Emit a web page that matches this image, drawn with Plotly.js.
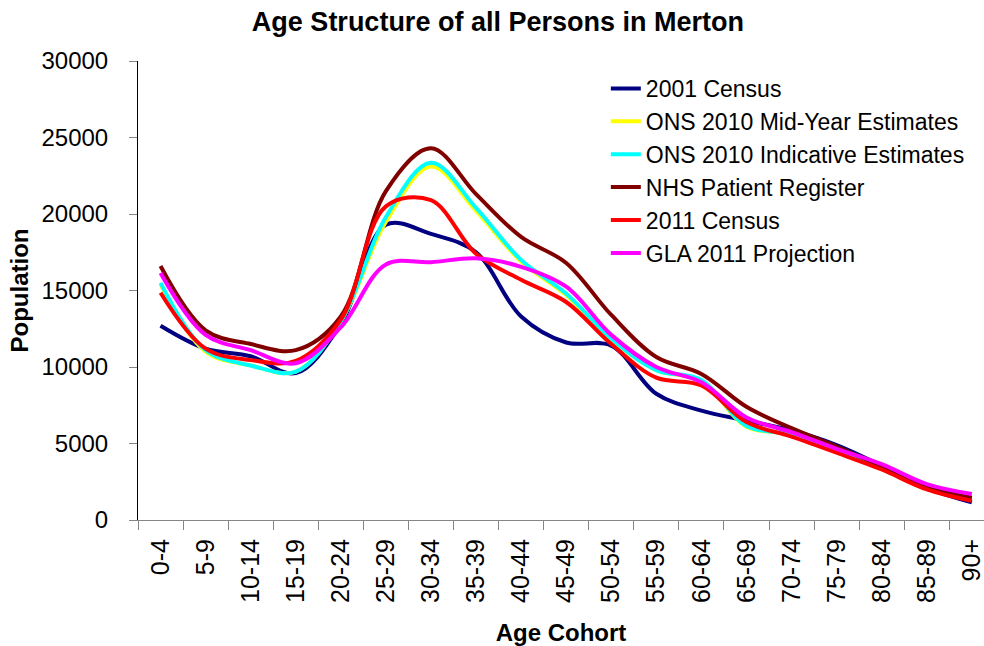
<!DOCTYPE html>
<html>
<head>
<meta charset="utf-8">
<script src="https://cdn.plot.ly/plotly-3.0.1.min.js"></script>
<style>html,body{margin:0;padding:0;background:#fff;}#chart{width:984px;height:646px;}</style>
</head>
<body>
<div id="chart"></div>
<script>
const categories = ["0-4","5-9","10-14","15-19","20-24","25-29","30-34","35-39","40-44","45-49","50-54","55-59","60-64","65-69","70-74","75-79","80-84","85-89","90+"];

const census2001 = [12700,11200,10700,9600,12800,19300,18700,17500,13300,11600,11400,8250,7150,6500,5850,4900,3550,2100,1150];
const onsMidYear2010 = [15400,11000,10100,9700,13000,19500,23100,20200,16900,14700,11800,9800,9100,6100,5600,4600,3500,2200,1400];
const onsIndicative2010 = [15500,11100,10100,9700,13000,19800,23350,20400,17000,14800,11850,9800,9150,6150,5600,4650,3500,2200,1400];
const nhsRegister = [16600,12400,11500,11100,13300,21500,24300,21300,18500,16800,13400,10650,9550,7400,6000,4800,3500,2200,1450];
const census2011 = [14850,11200,10450,10400,13100,20500,20900,17400,15700,14250,11500,9300,8800,6400,5450,4400,3300,2000,1250];
const gla2011 = [16150,12100,11100,10250,12600,16700,16850,17100,16550,15250,12100,10000,9000,6700,5750,4650,3650,2350,1700];

const seriesNames = ["2001 Census","ONS 2010 Mid-Year Estimates","ONS 2010 Indicative Estimates","NHS Patient Register","2011 Census","GLA 2011 Projection"];
const seriesValues = [census2001, onsMidYear2010, onsIndicative2010, nhsRegister, census2011, gla2011];
const seriesColors = ["#000080","#FFFF00","#00FFFF","#800000","#FF0000","#FF00FF"];

const FONT = "Liberation Sans, Arial, sans-serif";

const traces = seriesValues.map((vals, i) => ({
  type: "scatter",
  mode: "lines",
  name: seriesNames[i],
  x: categories,
  y: vals,
  line: {color: seriesColors[i], width: 4, shape: "spline", smoothing: 1}
}));

const layout = {
  width: 984,
  height: 646,
  margin: {l: 138, r: 0, t: 61, b: 126},
  paper_bgcolor: "#fff",
  plot_bgcolor: "#fff",
  font: {family: FONT, color: "#000", size: 23},
  title: {
    text: "<b>Age Structure of all Persons in Merton</b>",
    font: {family: FONT, size: 27, color: "#000"},
    x: 0.506, xref: "container", xanchor: "center",
    y: 0.966, yref: "container", yanchor: "middle"
  },
  xaxis: {
    type: "category",
    range: [-0.5, 18.27],
    tickangle: -90,
    tickson: "boundaries",
    ticks: "outside",
    ticklen: 9,
    tickcolor: "#868686",
    showline: true,
    linecolor: "#868686",
    linewidth: 1,
    showgrid: false,
    zeroline: false,
    tickfont: {family: FONT, size: 25, color: "#000"},
    ticklabelstandoff: 8,
    title: {text: "<b>Age Cohort</b>", font: {family: FONT, size: 24, color: "#000"}, standoff: 22}
  },
  yaxis: {
    range: [0, 30000],
    dtick: 5000,
    tick0: 0,
    tickformat: "d",
    ticks: "outside",
    ticklen: 8,
    tickcolor: "#868686",
    showline: true,
    linecolor: "#000",
    linewidth: 1,
    showgrid: false,
    zeroline: false,
    tickfont: {family: FONT, size: 24, color: "#000"},
    ticklabelstandoff: 16,
    title: {text: "<b>Population</b>", font: {family: FONT, size: 24, color: "#000"}, standoff: 6}
  },
  showlegend: true,
  legend: {
    x: 0.553, y: 0.987, xanchor: "left", yanchor: "top",
    bgcolor: "rgba(0,0,0,0)",
    font: {family: FONT, size: 23, color: "#000"},
    tracegroupgap: 0
  }
};

Plotly.newPlot("chart", traces, layout, {displayModeBar: false, staticPlot: true});
</script>
</body>
</html>
